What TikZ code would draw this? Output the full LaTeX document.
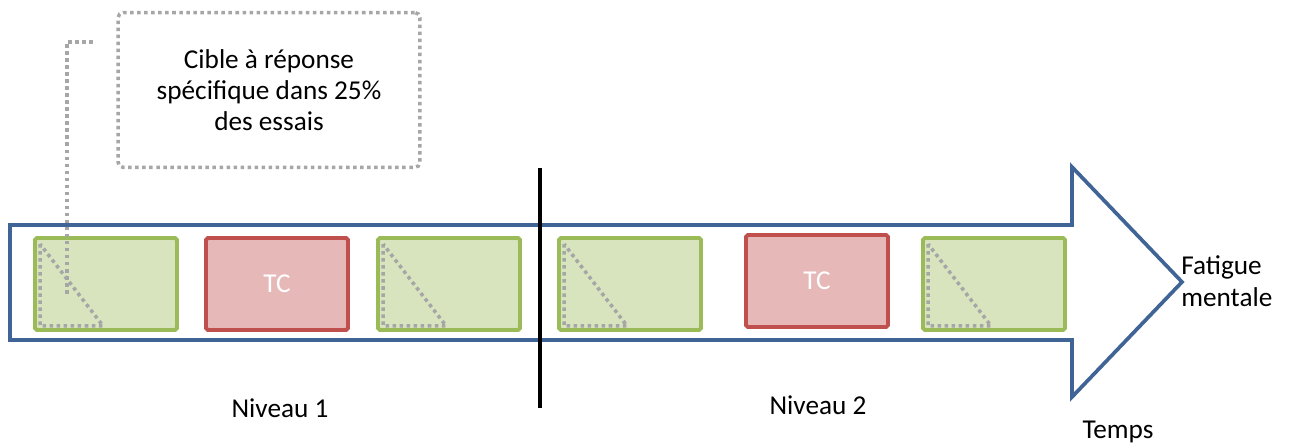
\documentclass[tikz,border=0pt]{standalone}
\usepackage{fontspec}
\setmainfont{Carlito}
\usepackage{xcolor}
\usepackage{tikz}
\definecolor{arrowblue}{HTML}{3F6495}
\definecolor{essaigreen}{HTML}{D7E4BD}
\definecolor{essaiedge}{HTML}{9BBB59}
\definecolor{tcred}{HTML}{E6B9B8}
\definecolor{tcedge}{HTML}{C0504D}
\definecolor{dotgray}{HTML}{A6A6A6}
\tikzset{
  tlarrow/.style={line width=2.1pt, draw=arrowblue, line join=miter},
  essai/.style={fill=essaigreen, draw=essaiedge, line width=2.2pt, minimum width=2.84cm, minimum height=1.84cm, rounded corners=1pt},
  tcbox/.style={fill=tcred, draw=tcedge, line width=2.2pt, minimum width=2.84cm, minimum height=1.84cm, rounded corners=1pt, text=white, font=\fontsize{15.5}{18}\selectfont},
  dotline/.style={line width=2pt, draw=dotgray, dash pattern=on 2pt off 2pt},
  lbl/.style={font=\fontsize{15.5}{18.5}\selectfont, inner sep=0pt},
  sepline/.style={line width=1.8pt, draw=black},
}

\begin{document}
\begin{tikzpicture}[x=0.02cm,y=-0.02cm]
\useasboundingbox (0,0) rectangle (1290,445);
% big arrow for time
\draw[tlarrow] (10,225) -- (1072,225) -- (1072,167) -- (1182,282) -- (1072,397)
  -- (1072,340) -- (10,340) -- cycle;
% trials
\node[essai] (g1) at (106,284) {};
\node[tcbox] (r1) at (277,284) {TC};
\node[essai] (g2) at (449,284) {};
\node[essai] (g3) at (630,284) {};
\node[tcbox] (r2) at (817,281) {TC};
\node[essai] (g4) at (994,284) {};
\foreach \b in {g1,g2,g3,g4}
  \draw[dotline] ([shift={(7,8)}]\b.north west) -- ([shift={(7,-6)}]\b.south west)
    -- ([shift={(70,-6)}]\b.south west) -- cycle;
% callout
\node[draw=dotgray, dotline, rounded corners=3pt, minimum width=6.04cm, minimum height=3.1cm,
  align=center, font=\fontsize{15.5}{17.5}\selectfont] (cible) at (269,90)
  {Cible à réponse\\spécifique dans 25\%\\des essais};
\coordinate (lead1) at (93,42);
\coordinate (lead2) at (67,42);
\coordinate (lead3) at (67,294);
\draw[dotline] (lead1) -- (lead2) -- (lead3);
% separation of levels
\coordinate (sep1) at (540,168);
\coordinate (sep2) at (540,408);
\draw[sepline] (sep1) -- (sep2);
% labels
\node[lbl] (niv1) at (280,408) {Niveau 1};
\node[lbl] (niv2) at (818,405) {Niveau 2};
\node[lbl, align=left, anchor=west] (fatigue) at (1181,281) {Fatigue\\mentale};
\node[lbl] (temps) at (1118,432) {Temps};
\end{tikzpicture}
\end{document}
